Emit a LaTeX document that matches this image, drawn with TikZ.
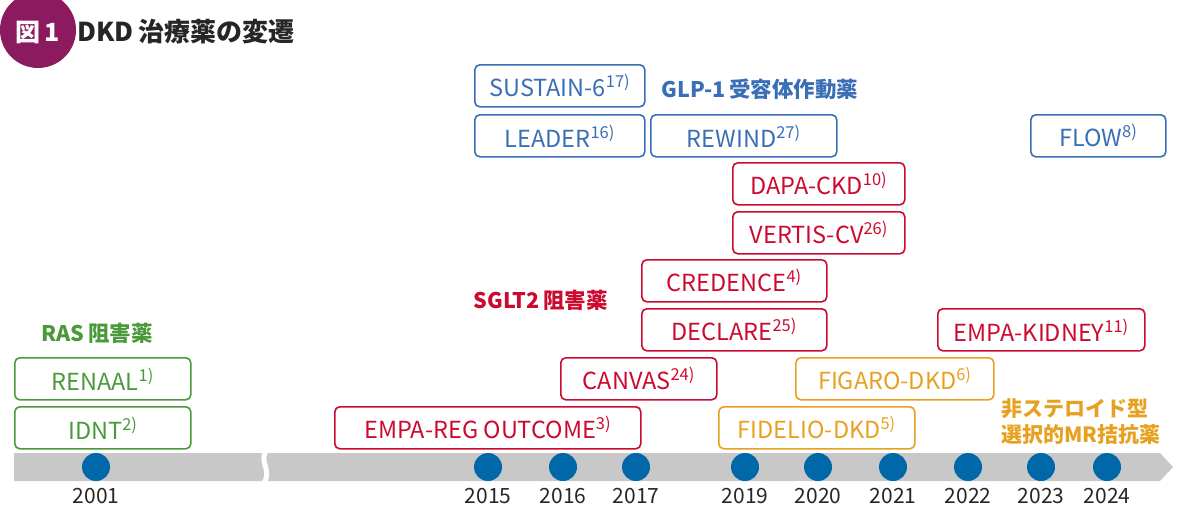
\documentclass[tikz,border=0pt]{standalone}
\usepackage{fontspec}
\setmainfont{Noto Sans CJK JP}
\begin{document}
\begin{tikzpicture}[x=1pt,y=-1pt,
  bx/.style={draw,rounded corners=5pt,line width=1.6pt,inner sep=0pt,font=\fontsize{23.5}{23.5}\selectfont},
  gb/.style={bx,draw=grn,text=grn}, bb/.style={bx,draw=blu,text=blu},
  rb/.style={bx,draw=red1,text=red1}, ob/.style={bx,draw=org,text=org},
  dot/.style={circle,fill=dotc,minimum size=28pt,inner sep=0pt},
  yr/.style={font=\fontsize{21}{21}\selectfont,text=black!85},
  cat/.style={font=\bfseries\fontsize{21.5}{21.5}\selectfont,anchor=west}]
\definecolor{blu}{HTML}{3A6EB5}\definecolor{red1}{HTML}{CC0A2F}
\definecolor{grn}{HTML}{4A9A3C}\definecolor{org}{HTML}{E8A020}
\definecolor{dotc}{HTML}{0068A8}\definecolor{barc}{HTML}{C8C8C8}
\definecolor{pur}{HTML}{8C1A5E}
\useasboundingbox (0,0) rectangle (1200,514);
\newcommand{\sbx}[6]{\node[#1,minimum width=#4-#3,minimum height=42,anchor=north west] (#2) at (#3,#5) {#6};}
% title
\begin{scope}
\clip (0,0) rectangle (1200,514);
\fill[pur] (38,30) circle (38);
\end{scope}
\node[text=white,font=\bfseries\fontsize{25}{25}\selectfont] (badge) at (38,32) {図\,1};
\node[anchor=west,font=\bfseries\fontsize{26}{26}\selectfont,text=black!85] (title) at (74,32) {DKD\,治療薬の変遷};
% bar
\fill[barc] (14,453) -- (1160,453) -- (1173,467) -- (1160,481) -- (14,481) -- cycle;
\draw[white,line width=5pt] (266,451) .. controls (259,462) and (272,470) .. (264,483);
% dots and years
\foreach \x/\y [count=\i] in {96/2001,488/2015,563/2016,636/2017,745/2019,818/2020,893/2021,968/2022,1041/2023,1107/2024}{
  \node[dot] (d\i) at (\x,467) {};
  \node[yr] (y\i) at (\x,496) {\y};
}
% boxes
\sbx{bb}{sus}{474}{644}{64}{SUSTAIN-6\textsuperscript{17)}}
\sbx{bb}{lea}{474}{644}{114}{LEADER\textsuperscript{16)}}
\sbx{bb}{rew}{650}{836}{114}{REWIND\textsuperscript{27)}}
\sbx{bb}{flow}{1030}{1165}{114}{FLOW\textsuperscript{8)}}
\sbx{rb}{dapa}{732}{904}{162}{DAPA-CKD\textsuperscript{10)}}
\sbx{rb}{vert}{732}{904}{211}{VERTIS-CV\textsuperscript{26)}}
\sbx{rb}{cred}{641}{826}{259}{CREDENCE\textsuperscript{4)}}
\sbx{rb}{decl}{641}{826}{308}{DECLARE\textsuperscript{25)}}
\sbx{rb}{empk}{937}{1144}{308}{EMPA-KIDNEY\textsuperscript{11)}}
\sbx{rb}{canv}{560}{716}{357}{CANVAS\textsuperscript{24)}}
\sbx{ob}{figa}{795}{993}{357}{FIGARO-DKD\textsuperscript{6)}}
\sbx{rb}{empr}{334}{640}{406}{EMPA-REG OUTCOME\textsuperscript{3)}}
\sbx{ob}{fide}{718}{914}{406}{FIDELIO-DKD\textsuperscript{5)}}
\sbx{gb}{rena}{14}{190}{357}{RENAAL\textsuperscript{1)}}
\sbx{gb}{idnt}{14}{190}{406}{IDNT\textsuperscript{2)}}
% category labels
\node[cat,text=blu] (glp) at (658,89) {GLP-1\,受容体作動薬};
\node[cat,text=red1] (sglt) at (470,300) {SGLT2\,阻害薬};
\node[cat,text=grn] (ras) at (38,333) {RAS\,阻害薬};
\node[cat,text=org,align=left,font=\bfseries\fontsize{21}{26}\selectfont] (mra) at (998,422) {非ステロイド型\\選択的MR拮抗薬};
\end{tikzpicture}
\end{document}
